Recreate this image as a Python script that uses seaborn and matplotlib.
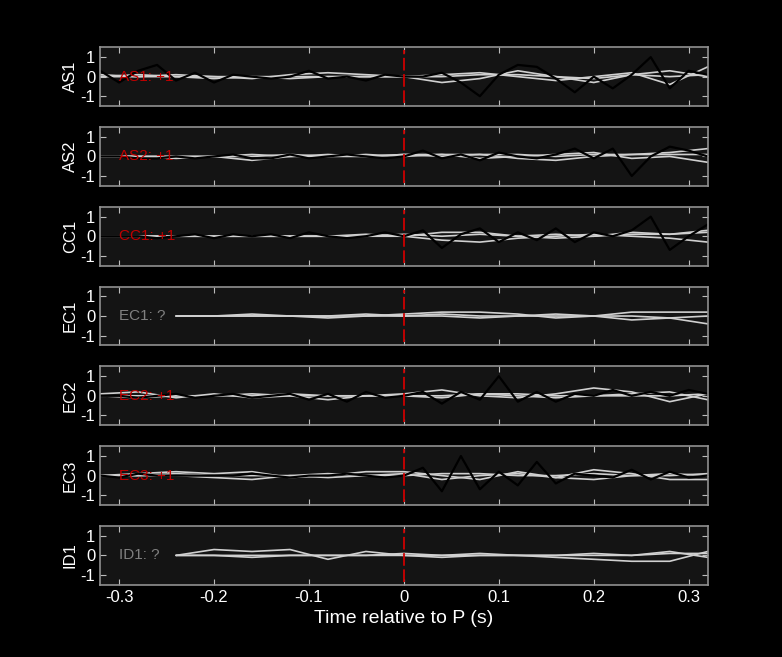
import numpy as np
import seaborn as sns
import matplotlib.pyplot as plt

sns.set_style("dark")
plt.rcParams['font.family'] = ['Liberation Sans', 'DejaVu Sans']

stations = ['AS1', 'AS2', 'CC1', 'EC1', 'EC2', 'EC3', 'ID1']
labels = ['AS1: +1', 'AS2: +1', 'CC1: +1', 'EC1: ?', 'EC2: +1', 'EC3: +1', 'ID1: ?']
has_pick = [True, True, True, False, True, True, False]

# black trace samples (every 0.02 s)
t_black = [-0.32, -0.30, -0.28, -0.26, -0.24, -0.22, -0.20, -0.18, -0.16, -0.14, -0.12,
           -0.10, -0.08, -0.06, -0.04, -0.02, 0.0, 0.02, 0.04, 0.06, 0.08, 0.10, 0.12,
           0.14, 0.16, 0.18, 0.20, 0.22, 0.24, 0.26, 0.28, 0.30, 0.32]
black = {
    'AS1': [0.3, -0.3, 0.3, 0.6, -0.2, 0.2, -0.3, 0.1, 0.0, -0.1, 0.0, 0.3, -0.1, 0.0, -0.2, 0.1, 0.0,
            0.0, 0.2, -0.3, -1.0, 0.1, 0.6, 0.5, -0.1, -0.8, 0.0, -0.6, 0.1, 1.0, -0.6, 0.3, 0.1],
    'AS2': [0.0, 0.0, -0.1, -0.1, 0.0, -0.1, 0.0, 0.1, -0.1, -0.1, 0.1, -0.1, 0.0, 0.1, 0.0, -0.1, 0.0,
            0.3, -0.1, 0.1, -0.2, 0.2, 0.0, -0.1, 0.1, 0.4, -0.1, 0.4, -1.0, 0.0, 0.5, 0.3, 0.0],
    'CC1': [0.0, 0.0, 0.0, -0.1, 0.0, 0.1, -0.1, 0.1, 0.0, 0.1, -0.1, 0.2, 0.0, -0.1, 0.0, 0.2, 0.0,
            0.3, -0.6, 0.1, 0.4, -0.3, 0.2, -0.2, 0.4, -0.3, 0.2, 0.0, 0.3, 1.0, -0.7, 0.0, 0.6],
    'EC2': [0.0, 0.0, -0.1, 0.0, 0.1, -0.1, 0.0, 0.1, -0.1, 0.0, 0.1, -0.2, 0.1, -0.3, 0.2, -0.1, 0.0,
            0.2, -0.4, 0.2, -0.2, 1.0, -0.3, 0.2, -0.3, 0.1, 0.0, 0.3, 0.0, 0.2, 0.0, 0.3, 0.1],
    'EC3': [0.0, -0.1, 0.1, 0.0, 0.0, 0.0, 0.0, 0.0, 0.1, 0.0, -0.1, 0.0, 0.0, 0.1, 0.0, -0.1, 0.0,
            0.4, -0.8, 1.0, -0.7, 0.2, -0.5, 0.7, -0.4, 0.1, 0.0, -0.1, 0.3, -0.2, 0.2, -0.1, 0.0],
}

# grey template traces (every 0.04 s), three per station
t_grey = [-0.32, -0.28, -0.24, -0.20, -0.16, -0.12, -0.08, -0.04, 0.0,
          0.04, 0.08, 0.12, 0.16, 0.20, 0.24, 0.28, 0.32]
nan = np.nan
grey = {
    'AS1': [[0.1, 0.0, 0.1, 0.0, -0.1, 0.1, 0.2, 0.1, 0.0, -0.3, -0.1, 0.3, 0.0, -0.3, 0.1, 0.3, 0.0],
            [0.0, 0.0, 0.0, 0.0, 0.0, 0.0, 0.0, 0.0, 0.0, 0.1, 0.2, 0.0, -0.2, 0.0, 0.2, -0.4, 0.5],
            [0.0, 0.1, 0.0, -0.1, 0.0, -0.1, 0.0, 0.0, 0.0, 0.0, 0.1, 0.1, 0.0, -0.1, 0.1, 0.0, 0.1]],
    'AS2': [[0.0, 0.0, -0.1, 0.0, -0.2, 0.0, 0.1, 0.0, 0.1, 0.0, 0.1, -0.1, -0.2, 0.0, 0.1, 0.2, 0.4],
            [0.0, 0.0, 0.0, 0.0, 0.0, 0.1, 0.0, 0.0, 0.1, 0.1, -0.1, 0.0, 0.1, 0.2, -0.1, 0.0, -0.3],
            [0.0, 0.0, 0.0, 0.0, 0.1, 0.0, 0.0, 0.1, 0.0, 0.1, 0.1, 0.1, 0.0, 0.1, 0.1, 0.1, 0.1]],
    'CC1': [[0.0, 0.0, 0.0, 0.0, 0.0, 0.0, 0.0, 0.0, 0.0, 0.2, 0.2, 0.0, -0.1, 0.0, 0.2, 0.1, 0.3],
            [0.0, 0.0, 0.0, 0.0, 0.0, 0.0, 0.0, 0.1, 0.0, -0.2, -0.3, -0.1, 0.0, 0.1, 0.0, -0.1, -0.3],
            [0.0, 0.0, 0.0, 0.0, 0.0, 0.0, 0.0, 0.0, 0.1, 0.0, 0.1, 0.0, 0.1, 0.0, 0.1, 0.1, 0.2]],
    'EC1': [[nan, nan, 0.0, 0.0, 0.0, 0.0, -0.1, 0.0, 0.1, 0.2, 0.2, 0.1, -0.1, 0.0, -0.2, -0.1, -0.4],
            [nan, nan, 0.0, 0.0, 0.1, 0.0, 0.0, 0.1, 0.0, 0.0, -0.1, 0.0, 0.1, 0.0, 0.2, 0.2, 0.2],
            [nan, nan, 0.0, 0.0, 0.0, 0.0, 0.0, 0.0, 0.0, 0.1, 0.0, 0.0, 0.0, 0.0, 0.0, -0.1, 0.0]],
    'EC2': [[0.1, 0.2, -0.1, 0.1, -0.1, 0.0, -0.2, 0.0, 0.1, 0.3, 0.0, -0.1, 0.1, 0.4, 0.2, -0.3, 0.1],
            [0.0, -0.1, 0.0, 0.0, 0.0, 0.1, 0.0, 0.0, 0.0, -0.1, 0.1, 0.0, -0.1, 0.0, 0.1, 0.2, -0.2],
            [0.0, 0.0, 0.0, 0.0, 0.1, 0.0, 0.0, 0.0, 0.0, 0.0, 0.1, 0.1, 0.0, 0.0, 0.0, 0.0, 0.1]],
    'EC3': [[0.0, 0.1, 0.2, 0.1, 0.2, -0.1, 0.0, 0.2, 0.2, 0.0, -0.2, 0.2, -0.1, 0.3, 0.1, -0.2, -0.2],
            [0.0, 0.0, 0.0, -0.1, -0.2, 0.0, -0.1, 0.0, 0.1, -0.2, 0.0, 0.1, -0.1, -0.2, 0.0, 0.1, 0.0],
            [0.0, 0.0, 0.1, 0.0, 0.0, 0.0, 0.1, 0.0, 0.0, 0.1, 0.1, 0.0, 0.0, 0.1, 0.0, 0.0, 0.1]],
    'ID1': [[nan, nan, 0.0, 0.3, 0.2, 0.3, -0.2, 0.2, 0.0, -0.1, 0.0, 0.0, -0.1, -0.2, -0.3, -0.3, 0.2],
            [nan, nan, 0.0, 0.0, 0.0, 0.0, 0.0, 0.0, 0.1, 0.0, 0.0, 0.0, 0.0, 0.0, 0.0, 0.2, -0.1],
            [nan, nan, 0.0, 0.0, -0.1, 0.0, 0.0, 0.0, 0.0, 0.0, 0.1, 0.0, 0.0, 0.1, 0.0, 0.1, 0.1]],
}

fig, axes = plt.subplots(7, 1, figsize=(7.82, 6.57), dpi=100, sharex=True)
fig.patch.set_facecolor('black')
fig.subplots_adjust(left=0.128, right=0.905, top=0.928, bottom=0.110, hspace=0.36)

for ax, st, lab, pick in zip(axes, stations, labels, has_pick):
    ax.set_facecolor('#141414')
    for g in grey[st]:
        sns.lineplot(x=t_grey, y=g, ax=ax, color='#d0d0d0', lw=1.2)
    if st in black:
        sns.lineplot(x=t_black, y=black[st], ax=ax, color='black', lw=1.6)
    ax.axvline(0, color='#cc0000', lw=1.3, ls=(0, (7, 2)), ymin=0.05, ymax=0.95)
    ax.text(-0.3, 0, lab, color='#c00000' if pick else '#808080', fontsize=11, va='center')
    ax.set_xlim(-0.32, 0.32)
    ax.set_ylim(-1.5, 1.5)
    ax.set_yticks([-1, 0, 1])
    ax.set_yticklabels(['-1', '0', '1'])
    ax.set_xticks([-0.3, -0.2, -0.1, 0, 0.1, 0.2, 0.3])
    ax.set_xticklabels(['-0.3', '-0.2', '-0.1', '0', '0.1', '0.2', '0.3'])
    ax.tick_params(direction='in', colors='#bbbbbb', labelcolor='white', labelsize=12,
                   top=True, right=True, bottom=True, left=True, length=4)
    ax.set_ylabel(st, color='white', fontsize=12, labelpad=2)
    ax.grid(False)
    for s in ax.spines.values():
        s.set_color('#909090')
        s.set_linewidth(1.2)

axes[-1].set_xlabel('Time relative to P (s)', color='white', fontsize=14)

plt.savefig('out.png', facecolor='black')
